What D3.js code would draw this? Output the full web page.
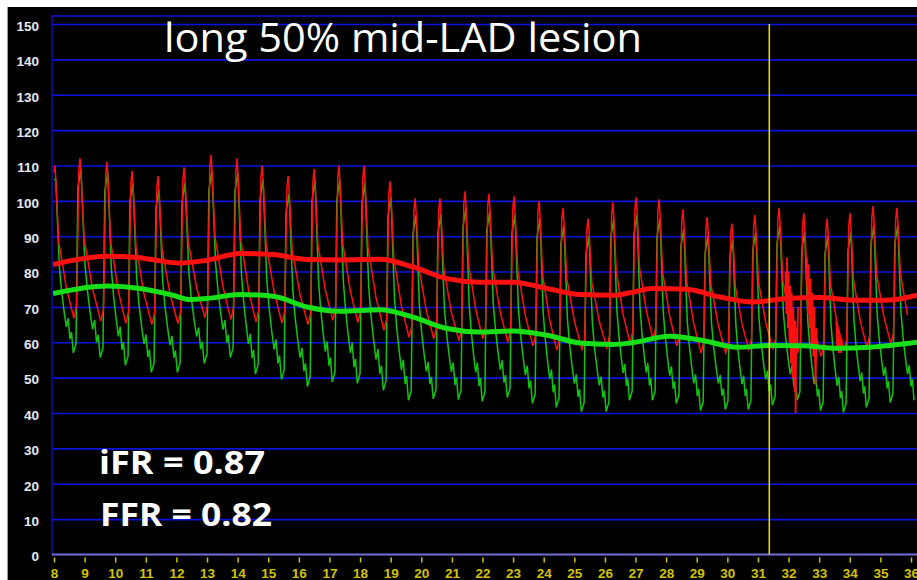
<!DOCTYPE html>
<meta charset="utf-8">
<style>
body { margin: 0; background: #fff; }
.grid line { stroke: #0a14dc; stroke-width: 1.6; }
.grid path { display: none; }
.axis--y path, .axis--x path { display: none; }
.axis--y text { fill: #e6e8f2; font: bold 13.5px "Liberation Sans", Arial, sans-serif; }
.axis--x text { fill: #d2c200; font: bold 13.5px "Liberation Sans", Arial, sans-serif; }
.axis--x line { stroke: #d2c200; stroke-width: 1.5; }
</style>
<body>
<svg width="917" height="580"></svg>
<script src="https://d3js.org/d3.v7.min.js"></script>
<script>

// beat-by-beat values (time in seconds of each aortic systolic peak)
var beatTimes = [8.03, 8.85, 9.73, 10.55, 11.40, 12.25, 13.13, 13.98, 14.80, 15.65, 16.50, 17.31,
  18.13, 18.98, 19.80, 20.61, 21.43, 22.21, 23.03, 23.85, 24.63, 25.45, 26.26, 27.02,
  27.77, 28.55, 29.34, 30.15, 30.90, 31.69, 32.50, 33.26, 34.01, 34.76, 35.54];
var aoSystolic = [110, 112, 111, 108.5, 107, 109.5, 113, 112, 110, 107, 109, 110,
  110, 105.5, 100.7, 100.7, 102.7, 102, 101.3, 100, 98, 95, 99.6, 101,
  100.4, 97.6, 95.4, 93.6, 96, 98, 96.5, 95, 96.5, 98.5, 98];
// trough that follows each beat
var aoDiastolic = [66.8, 66, 65.3, 65, 65.3, 67, 66.4, 65.7, 65.4, 65, 66.2, 65.6,
  63.4, 61.4, 61, 60.5, 61, 60, 59, 57.7, 58, 58.6, 59.8, 61,
  59, 57, 57, 58, 58, 57, 56, 57.7, 58.6, 59.7, 60];
var pdSystolic = [106, 109, 108, 105, 103, 105, 108.5, 108, 106, 102, 106, 106,
  105, 101, 96, 96, 98, 97, 96, 95, 93, 90, 95, 96,
  95, 92, 90, 89, 91, 93, 91, 90, 91, 93, 93];
var pdDiastolic = [57, 55.7, 53.5, 51.5, 51.5, 54, 55.7, 51, 49.5, 47.5, 48.8, 48.4,
  46.4, 43.6, 44, 43.8, 43.3, 44.4, 42.7, 41.6, 40.4, 40.4, 43.6, 43.6,
  42.7, 40.7, 41, 41, 42.2, 43.6, 40.7, 40.2, 41.6, 43, 43.6];

// mean pressures [time, mmHg]
var aoMean = [[7.97, 82], [9.73, 84.3], [10.71, 84], [12.12, 82.4], [13.0, 83.2], [14.08, 85.1],
  [15.16, 84.8], [16.27, 83.4], [17.35, 83.3], [18.65, 83.5], [19.73, 81.3], [20.84, 78],
  [21.92, 77], [23.0, 77], [24.11, 75.2], [25.19, 73.5], [26.26, 73.3], [26.82, 74],
  [27.57, 75.2], [28.68, 75], [29.76, 72.8], [30.84, 71.4], [31.95, 72.4], [33.03, 72.7],
  [34.11, 71.9], [35.22, 71.9], [36.2, 73.3]];
var pdMean = [[7.97, 73.8], [9.73, 75.9], [10.81, 75.2], [11.89, 73.3], [12.44, 72.1], [13.0, 72.4],
  [14.08, 73.5], [15.16, 73], [16.27, 70], [17.35, 68.8], [18.65, 69.2], [19.73, 67.1],
  [20.84, 63.9], [21.92, 62.9], [23.0, 63.2], [24.11, 62], [25.19, 59.8], [26.26, 59.4],
  [26.82, 59.8], [28.13, 61.7], [29.2, 60.5], [30.32, 58.6], [31.39, 59.1], [32.47, 59],
  [33.58, 58.3], [34.66, 58.6], [36.2, 60]];

// catheter-whip noise on the aortic trace
var artifacts = [
  [[31.90, 80], [31.93, 68], [31.95, 84], [31.98, 64], [32.00, 80], [32.03, 60], [32.05, 76],
   [32.08, 54], [32.10, 74], [32.13, 50], [32.15, 70], [32.18, 62], [32.20, 46], [32.22, 66],
   [32.23, 40], [32.25, 64], [32.28, 58], [32.31, 70]],
  [[32.60, 84], [32.63, 68], [32.66, 82], [32.69, 64], [32.72, 78], [32.75, 58], [32.78, 74],
   [32.81, 56], [32.84, 70], [32.88, 48], [32.92, 64]],
  [[33.56, 66], [33.59, 58], [33.62, 64], [33.65, 57], [33.68, 62], [33.71, 57], [33.74, 61]]
];

var markerTime = 31.37;
var yTicks = d3.range(0, 151, 10);
var xTicks = d3.range(8, 37, 1);
var title = "long 50% mid-LAD lesion";
var labels = ["iFR = 0.87", "FFR = 0.82"];

var svg = d3.select("svg");
var x = d3.scaleLinear().domain([8, 36]).range([54, 911]),
    y = d3.scaleLinear().domain([0, 150]).range([554.5, 24]);

svg.append("rect").attr("x", 8).attr("y", 7).attr("width", 909).attr("height", 573).attr("fill", "#000");
svg.append("line").attr("x1", 7.5).attr("x2", 7.5).attr("y1", 7).attr("y2", 580).attr("stroke", "#9a9a9a");

// grid
svg.append("g")
    .attr("class", "grid")
    .attr("transform", "translate(52,0)")
    .call(d3.axisLeft(y).tickValues(yTicks.slice(1)).tickSize(-865).tickFormat(""));
svg.append("line").attr("x1", 52).attr("x2", 917).attr("y1", 16).attr("y2", 16)
    .attr("stroke", "#0a14dc").attr("stroke-width", 1.6);
svg.append("line").attr("x1", 52).attr("x2", 52).attr("y1", 15).attr("y2", 556)
    .attr("stroke", "#0a10b0").attr("stroke-width", 1.5);
svg.append("line").attr("x1", 52).attr("x2", 917).attr("y1", y(0)).attr("y2", y(0))
    .attr("stroke", "#7070d8").attr("stroke-width", 2);

svg.append("g")
    .attr("class", "axis axis--y")
    .attr("transform", "translate(42,2)")
    .call(d3.axisLeft(y).tickValues(yTicks).tickSize(0).tickPadding(3));

svg.append("g")
    .attr("class", "axis axis--x")
    .attr("transform", "translate(0,557.5)")
    .call(d3.axisBottom(x).tickValues(xTicks).tickSize(5).tickPadding(6));

// traces
svg.append("clipPath").attr("id", "plot")
  .append("rect").attr("x", 53).attr("y", 16).attr("width", 864).attr("height", 540);

function aoPoints() {
  var pts = [[8.0, aoSystolic[0] - 2]];
  beatTimes.forEach(function(t, i) {
    var s = aoSystolic[i], d = aoDiastolic[i];
    if (i > 0) {
      var pd = aoDiastolic[i - 1], a = s - pd;
      pts.push([t - 0.20, pd], [t - 0.11, pd + 0.08 * a], [t - 0.04, pd + 0.92 * a]);
    }
    pts.push([t, s]);
    var next = i < beatTimes.length - 1 ? beatTimes[i + 1] : t + 0.78;
    var span = next - 0.20 - t, a2 = s - d;
    [[0.06, 0.12], [0.2, 0.5], [0.3, 0.57], [0.6, 0.8]].forEach(function(p) {
      pts.push([t + p[0] * span, s - p[1] * a2]);
    });
  });
  return pts;
}

function pdPoints() {
  var pts = [[8.0, pdSystolic[0]]];
  beatTimes.forEach(function(t, i) {
    var s = pdSystolic[i], d = pdDiastolic[i];
    if (i > 0) {
      var pd = pdDiastolic[i - 1], a = s - pd;
      pts.push([t - 0.22, pd], [t - 0.13, pd + 0.05 * a], [t - 0.07, pd + 0.9 * a]);
    }
    pts.push([t + 0.03, s]);
    var next = i < beatTimes.length - 1 ? beatTimes[i + 1] : t + 0.78;
    var span = next - 0.22 - t, a2 = s - d;
    [[0.14, 0.24], [0.24, 0.5], [0.36, 0.64], [0.5, 0.76], [0.62, 0.85], [0.72, 0.8],
     [0.82, 0.92], [0.9, 0.88], [1.0, 1.0]].forEach(function(p) {
      pts.push([t + p[0] * span, s - p[1] * a2]);
    });
  });
  return pts;
}

var line = d3.line().x(function(d) { return x(d[0]); }).y(function(d) { return y(d[1]); });
var smooth = d3.line().curve(d3.curveMonotoneX).x(function(d) { return x(d[0]); }).y(function(d) { return y(d[1]); });

var traces = svg.append("g").attr("clip-path", "url(#plot)");

traces.append("path").attr("d", line(pdPoints()))
    .attr("fill", "none").attr("stroke", "#12c412").attr("stroke-width", 1.5);
traces.append("path").attr("d", line(aoPoints()))
    .attr("fill", "none").attr("stroke", "#ff1010").attr("stroke-width", 1.5);
traces.selectAll(".artifact").data(artifacts).enter().append("path")
    .attr("class", "artifact")
    .attr("d", line)
    .attr("fill", "none").attr("stroke", "#ff1010").attr("stroke-width", 1.8);
traces.append("path").attr("d", smooth(pdMean))
    .attr("fill", "none").attr("stroke", "#18e018").attr("stroke-width", 5);
traces.append("path").attr("d", smooth(aoMean))
    .attr("fill", "none").attr("stroke", "#ff1010").attr("stroke-width", 5);

svg.append("line")
    .attr("x1", x(markerTime)).attr("x2", x(markerTime))
    .attr("y1", y(150)).attr("y2", y(0))
    .attr("stroke", "#e6d200").attr("stroke-width", 1.6);

// annotations
svg.append("text")
    .attr("x", 164).attr("y", 52)
    .attr("textLength", 478).attr("lengthAdjust", "spacingAndGlyphs")
    .style("font", "40px 'Open Sans', sans-serif").attr("fill", "#fff")
    .text(title);

svg.selectAll(".ffr").data(labels).enter().append("text")
    .attr("class", "ffr")
    .attr("x", function(d, i) { return i ? 100 : 99; })
    .attr("y", function(d, i) { return i ? 526 : 474; })
    .attr("textLength", function(d, i) { return i ? 172 : 166; })
    .attr("lengthAdjust", "spacingAndGlyphs")
    .style("font", "bold 33px 'Open Sans', sans-serif").attr("fill", "#fff")
    .text(function(d) { return d; });

</script>
</body>
